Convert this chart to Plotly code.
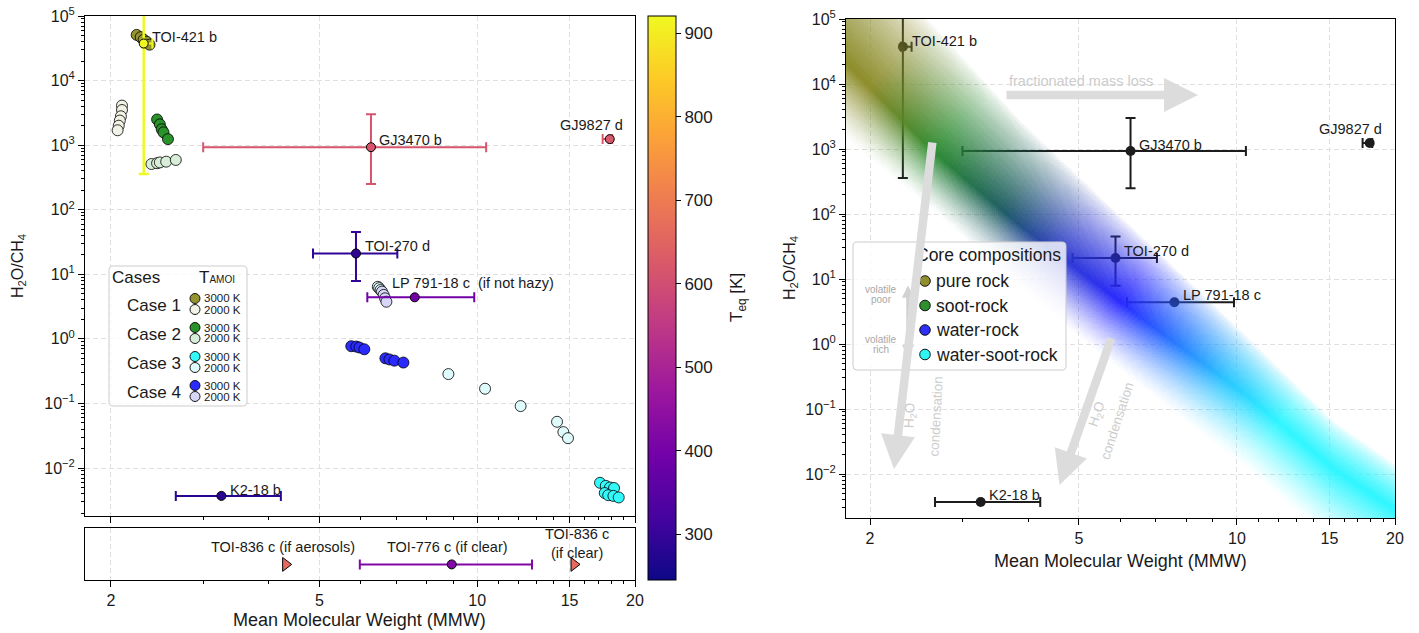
import math
import numpy as np
import plotly.graph_objects as go
from plotly.colors import sample_colorscale

W, H = 1419, 633
FONT = "Liberation Sans"
INK = "#1a1a1a"

# ---------------- model cases (left panel) ----------------
case_labels = ["Case 1", "Case 2", "Case 3", "Case 4"]
case1_3000_mmw = [2.24, 2.28, 2.31, 2.34, 2.37]
case1_3000_ratio = [5.1e4, 4.7e4, 4.3e4, 4.0e4, 3.6e4]
case1_2000_mmw = [2.10, 2.10, 2.09, 2.08, 2.07, 2.06]
case1_2000_ratio = [4.1e3, 3.5e3, 2.8e3, 2.4e3, 2.0e3, 1.7e3]
case2_3000_mmw = [2.45, 2.48, 2.50, 2.52, 2.57]
case2_3000_ratio = [2.5e3, 2.1e3, 1.76e3, 1.58e3, 1.24e3]
case2_2000_mmw = [2.39, 2.45, 2.48, 2.55, 2.66]
case2_2000_ratio = [510, 525, 540, 555, 590]
case3_3000_mmw = [17.15, 17.59, 17.92, 18.24, 17.51, 17.78, 18.19, 18.62]
case3_3000_ratio = [0.0059, 0.0053, 0.0050, 0.0049, 0.0041, 0.0038, 0.0037, 0.0035]
case3_2000_mmw = [6.46, 6.50, 6.54, 8.81, 10.35, 12.1, 14.2, 14.6, 14.9]
case3_2000_ratio = [6.4, 6.1, 5.7, 0.285, 0.169, 0.091, 0.052, 0.036, 0.029]
case4_3000_mmw = [5.75, 5.88, 5.96, 6.09, 6.68, 6.80, 6.95, 7.23]
case4_3000_ratio = [0.77, 0.76, 0.735, 0.69, 0.50, 0.48, 0.46, 0.43]
case4_2000_mmw = [6.58, 6.63, 6.67, 6.71]
case4_2000_ratio = [5.4, 4.8, 4.25, 3.76]
temp_labels = ["3000 K", "2000 K"]

# ---------------- observed planets ----------------
planet_names = ["TOI-421 b", "GJ3470 b", "GJ9827 d", "TOI-270 d", "LP 791-18 c", "K2-18 b"]
planet_notes = ["", "", "", "", "  (if not hazy)", ""]
planet_mmw = [2.31, 6.27, 17.9, 5.87, 7.6, 3.25]
planet_mmw_lo = [2.29, 3.00, 17.35, 4.86, 6.17, 2.66]
planet_mmw_hi = [2.40, 10.4, 18.1, 7.04, 9.87, 4.22]
planet_ratio = [3.75e4, 930, 1240, 21, 4.4, 0.0037]
planet_ratio_lo = [358, 250, None, 7.9, None, None]
planet_ratio_hi = [1e7, 3000, None, 45, None, None]
planet_teq = [920, 615, 625, 290, 396, 280]

# planets with MMW only (bottom strip)
ext_names = ["TOI-836 c (if aerosols)", "TOI-776 c (if clear)", "TOI-836 c<br>(if clear)"]
ext_mmw = [4.31, 8.94, 15.3]
ext_mmw_lo = [None, 5.97, None]
ext_mmw_hi = [None, 12.72, None]
ext_teq = [665, 420, 665]
ext_is_limit = [True, False, True]

# ---------------- core-composition band (right panel) ----------------
band_mmw = [1.78, 2.65, 3.87, 6.61, 10.45, 15.3, 21.0]
band_ratio = [2.3e4, 889, 66, 2.43, 0.16, 0.0119, 0.0022]
band_up_dex = [2.1, 1.95, 1.62, 1.26, 0.92, 0.74, 0.69]
band_dn_dex = [1.2, 0.92, 1.0, 1.08, 1.15, 1.2, 1.23]
hue_mmw = [2.0, 2.3, 2.65, 3.6, 4.6, 6.0, 8.0, 9.5, 12.0]
hue_rgb = [(138, 138, 38), (90, 135, 40), (40, 138, 45), (25, 88, 98), (42, 55, 205),
           (35, 35, 255), (35, 135, 255), (35, 195, 255), (40, 245, 255)]
core_names = ["pure rock", "soot-rock", "water-rock", "water-soot-rock"]
core_colors = ["#8f8f2e", "#2e8f2e", "#2f2ff5", "#30f5f5"]

cbar_ticks = [300, 400, 500, 600, 700, 800, 900]
x_major = [2, 5, 10, 15, 20]
x_minor = [3, 4, 6, 7, 8, 9, 11, 12, 13, 14, 16, 17, 18, 19]
y_exp = list(range(-2, 6))

# ---------------- geometry helpers (page pixels -> paper) ----------------
OFF = 0  # body margin is removed in the page (see post_script below)

def PX(x):
    return (x - OFF) / W

def PY(y):
    return 1 - (y - OFF) / H

T_MIN, T_MAX = 245, 921
X_RANGE_L = [math.log10(1.785), math.log10(20)]
Y_RANGE_L = [-2.743, 5]
X_RANGE_R = [0.2553, math.log10(20)]
Y_RANGE_R = [-2.677, 5]

def teq_color(t):
    return sample_colorscale("Plasma", [(t - T_MIN) / (T_MAX - T_MIN)])[0]

case_color_3000 = ["#939330", "#2a922a", "#33fafa", "#2b2bff"]
case_color_2000 = ["#f1f1e6", "#d9eed9", "#e0fbfb", "#d6d6f7"]

fig = go.Figure()

# ---- left panel: model cases ----
case_sets = [
    (case1_2000_mmw, case1_2000_ratio, case_color_2000[0]),
    (case1_3000_mmw, case1_3000_ratio, case_color_3000[0]),
    (case2_3000_mmw, case2_3000_ratio, case_color_3000[1]),
    (case2_2000_mmw, case2_2000_ratio, case_color_2000[1]),
    (case3_2000_mmw, case3_2000_ratio, case_color_2000[2]),
    (case4_2000_mmw, case4_2000_ratio, case_color_2000[3]),
    (case4_3000_mmw, case4_3000_ratio, case_color_3000[3]),
    (case3_3000_mmw, case3_3000_ratio, case_color_3000[2]),
]
for xs, ys, col in case_sets:
    fig.add_trace(go.Scatter(x=xs, y=ys, mode="markers", xaxis="x", yaxis="y",
                             marker=dict(size=11, color=col, line=dict(color="black", width=0.8)),
                             hoverinfo="skip", showlegend=False))

def err_dict(val, lo, hi, col, thick=2, width=5):
    if lo is None:
        return None
    return dict(type="data", symmetric=False, array=[hi - val], arrayminus=[val - lo],
                color=col, thickness=thick, width=width)

# error bars (left, coloured by Teq)
for i in range(len(planet_names)):
    col = teq_color(planet_teq[i])
    fig.add_trace(go.Scatter(
        x=[planet_mmw[i]], y=[planet_ratio[i]], mode="markers", xaxis="x", yaxis="y",
        marker=dict(size=2, opacity=0),
        error_x=err_dict(planet_mmw[i], planet_mmw_lo[i], planet_mmw_hi[i], col),
        error_y=err_dict(planet_ratio[i], planet_ratio_lo[i], planet_ratio_hi[i], col,
                         thick=2.5 if i == 0 else 2),
        hoverinfo="skip", showlegend=False))

fig.add_trace(go.Scatter(
    x=planet_mmw, y=planet_ratio, mode="markers", xaxis="x", yaxis="y",
    marker=dict(size=9, color=planet_teq, colorscale="Plasma", cmin=T_MIN, cmax=T_MAX,
                line=dict(color="black", width=1), showscale=True,
                colorbar=dict(x=PX(648), xanchor="left", y=PY((16 + 580) / 2), yanchor="middle",
                              len=(580 - 16) / H, lenmode="fraction", thickness=28,
                              thicknessmode="pixels", outlinewidth=1, outlinecolor="black",
                              ticks="outside", ticklen=5, tickcolor="black", tickmode="array",
                              tickvals=cbar_ticks, tickfont=dict(size=17, color=INK),
                              ticklabeloverflow="allow", xpad=0, ypad=0)),
    hoverinfo="skip", showlegend=False))

# ---- bottom strip ----
EXT_Y = 0.3
for i in range(len(ext_names)):
    col = teq_color(ext_teq[i])
    fig.add_trace(go.Scatter(
        x=[ext_mmw[i]], y=[EXT_Y], mode="markers", xaxis="x3", yaxis="y3",
        marker=dict(size=12 if ext_is_limit[i] else 9,
                    symbol="triangle-right" if ext_is_limit[i] else "circle",
                    color=col, line=dict(color="black", width=1)),
        error_x=err_dict(ext_mmw[i], ext_mmw_lo[i], ext_mmw_hi[i], col),
        hoverinfo="skip", showlegend=False))

# ---- right panel: observed planets in black ----
for i in range(len(planet_names)):
    fig.add_trace(go.Scatter(
        x=[planet_mmw[i]], y=[planet_ratio[i]], mode="markers", xaxis="x2", yaxis="y2",
        marker=dict(size=10, color="#1c1c1c"),
        error_x=err_dict(planet_mmw[i], planet_mmw_lo[i], planet_mmw_hi[i], "#1c1c1c"),
        error_y=err_dict(planet_ratio[i], planet_ratio_lo[i], planet_ratio_hi[i], "#1c1c1c"),
        hoverinfo="skip", showlegend=False))

# ---- right panel: translucent composition band (drawn above the planets) ----
SX, SY = 525.0, 65.0  # pixels per decade on the right panel
step_x, step_y = 2.0 / SX, 2.0 / SY
lx_c = np.arange(X_RANGE_R[0] + step_x / 2, X_RANGE_R[1], step_x)
ly_c = np.arange(Y_RANGE_R[0] + step_y / 2, Y_RANGE_R[1], step_y)
LX, LY = np.meshgrid(lx_c, ly_c)
blx = np.log10(band_mmw)
bly = np.log10(band_ratio)
core = np.interp(LX, blx, bly)
wup = np.interp(LX, blx, band_up_dex)
wdn = np.interp(LX, blx, band_dn_dex)
dd = LY - core
AMAX = 0.97
alpha = np.where(dd >= 0,
                 np.clip(1 - dd / wup, 0, 1) ** 0.75,
                 np.clip(1 + dd / wdn, 0, 1) ** 1.3) * AMAX

ang = math.atan(0.82)

def ucoord(lx, ly):
    return math.cos(ang) * SX * lx + math.sin(ang) * (-SY) * ly

hl = np.log10(hue_mmw)
hu = ucoord(hl, np.interp(hl, blx, bly))
U = ucoord(LX, LY)
tpos = np.interp(U, hu, np.arange(len(hue_mmw), dtype=float))
NB, NA = 160, 48
tb = np.clip(np.round(tpos / (len(hue_mmw) - 1) * (NB - 1)).astype(int), 0, NB - 1)
ab = np.clip(np.round(alpha / AMAX * (NA - 1)).astype(int), 0, NA - 1)
key = tb * NA + ab
mask = ab > 0
ukeys = np.unique(key[mask])
kidx = {int(k): j for j, k in enumerate(ukeys)}
hue_arr = np.array(hue_rgb, dtype=float)
cs = []
nk = len(ukeys)
for j, k in enumerate(ukeys):
    b, a = divmod(int(k), NA)
    tt = b / (NB - 1) * (len(hue_mmw) - 1)
    i0 = min(int(math.floor(tt)), len(hue_mmw) - 2)
    f = tt - i0
    rgb = hue_arr[i0] * (1 - f) + hue_arr[i0 + 1] * f
    cs.append([j / (nk - 1), "rgba(%d,%d,%d,%.3f)" % (rgb[0], rgb[1], rgb[2], a / (NA - 1) * AMAX)])
Z = [[(kidx[int(key[r, c])] if mask[r, c] else None) for c in range(key.shape[1])]
     for r in range(key.shape[0])]
fig.add_trace(go.Heatmap(x=lx_c, y=ly_c, z=Z, colorscale=cs, zmin=0, zmax=nk - 1,
                         showscale=False, zsmooth=False, hoverinfo="skip",
                         xaxis="x4", yaxis="y4"))

# ---------------- axes ----------------
y_vals = [10.0 ** k for k in y_exp]
y_text = ["10<sup>%s</sup>" % (str(k) if k >= 0 else "\u2212" + str(-k)) for k in y_exp]
y_minor = [m * 10.0 ** k for k in range(-3, 5) for m in range(2, 10)]

def log_axis(domain, rng, anchor, labels, major, major_text, minor_vals):
    return dict(type="log", domain=domain, range=rng, anchor=anchor, automargin=False,
                showline=True, linecolor="black", linewidth=1, mirror=True,
                ticks="outside", ticklen=6, tickwidth=1, tickcolor="black",
                tickmode="array", tickvals=major, ticktext=major_text, showticklabels=labels,
                tickfont=dict(size=16, color=INK), ticklabeloverflow="allow",
                showgrid=True, gridcolor="#e0e0e0", griddash="5px,3px", gridwidth=1,
                zeroline=False,
                minor=dict(tickmode="array", tickvals=minor_vals, ticks="outside", ticklen=3,
                           tickwidth=1, tickcolor="black", showgrid=False))

xt = [str(v) for v in x_major]
layout_axes = dict(
    xaxis=log_axis([PX(85), PX(635)], X_RANGE_L, "y", False, x_major, xt, x_minor),
    yaxis=log_axis([PY(516), PY(16)], Y_RANGE_L, "x", True, y_vals, y_text, y_minor),
    xaxis3=log_axis([PX(85), PX(635)], X_RANGE_L, "y3", True, x_major, xt, x_minor),
    yaxis3=dict(domain=[PY(580), PY(528)], range=[0, 1], anchor="x3", showticklabels=False,
                ticks="", showgrid=False, zeroline=False, showline=True, mirror=True,
                linecolor="black", linewidth=1, automargin=False),
    xaxis2=log_axis([PX(846), PX(1395)], X_RANGE_R, "y2", True, x_major, xt, x_minor),
    yaxis2=log_axis([PY(518), PY(19)], Y_RANGE_R, "x2", True, y_vals, y_text, y_minor),
    xaxis4=dict(overlaying="x2", type="linear", range=X_RANGE_R, visible=False, anchor="y4",
                showgrid=False, zeroline=False, automargin=False),
    yaxis4=dict(overlaying="y2", type="linear", range=Y_RANGE_R, visible=False, anchor="x4",
                showgrid=False, zeroline=False, automargin=False),
)

# ---------------- annotations & shapes ----------------
ann = []
shapes = []

def text(x, y, t, size, color=INK, xanchor="center", angle=0, **kw):
    d = dict(xref="paper", yref="paper", x=PX(x), y=PY(y), text=t, showarrow=False,
             font=dict(size=size, color=color, family=FONT), xanchor=xanchor,
             yanchor="middle", textangle=angle)
    d.update(kw)
    ann.append(d)

LAB = 14.5
# planet labels
left_shift = [(6, 7, "left"), (6.5, 7, "left"), (15, 14, "right"), (7, 7, "left"),
              (-25, 14, "left"), (6.5, 6, "left")]
right_shift = [(7, 6, "left"), (6, 6, "left"), (14, 14, "right"), (6.5, 7, "left"),
               (7, 7, "left"), (6, 7, "left")]
for i, nm in enumerate(planet_names):
    dx, dy, xa = left_shift[i]
    ann.append(dict(xref="x", yref="y", x=math.log10(planet_mmw[i]), y=math.log10(planet_ratio[i]),
                    text=nm + planet_notes[i], showarrow=False, xshift=dx, yshift=dy,
                    xanchor=xa, yanchor="middle", font=dict(size=LAB, color=INK)))
    dx, dy, xa = right_shift[i]
    ann.append(dict(xref="x2", yref="y2", x=math.log10(planet_mmw[i]), y=math.log10(planet_ratio[i]),
                    text=nm, showarrow=False, xshift=dx, yshift=dy,
                    xanchor=xa, yanchor="middle", font=dict(size=LAB, color=INK)))
ext_shift = [(-3, 17), (-4.5, 17), (3, 21)]
for i, nm in enumerate(ext_names):
    dx, dy = ext_shift[i]
    ann.append(dict(xref="x3", yref="y3", x=math.log10(ext_mmw[i]), y=EXT_Y, text=nm,
                    showarrow=False, xshift=dx, yshift=dy, xanchor="center", yanchor="middle",
                    font=dict(size=LAB, color=INK)))

# axis titles
ratio_title = "H<sub>2</sub>O/CH<sub>4</sub>"
mmw_title = "Mean Molecular Weight (MMW)"
text(18, 266, ratio_title, 16, angle=-90)
text(790, 268, ratio_title, 16, angle=-90)
text(359, 620, mmw_title, 18)
text(1120, 561, mmw_title, 18)
text(738, 298, "T<sub>eq</sub> [K]", 17, angle=-90)

# rounded legend boxes
def rrect(x0, y0, x1, y1, r):
    p = [
        "M%f,%f" % (PX(x0 + r), PY(y0)), "L%f,%f" % (PX(x1 - r), PY(y0)),
        "Q%f,%f %f,%f" % (PX(x1), PY(y0), PX(x1), PY(y0 + r)), "L%f,%f" % (PX(x1), PY(y1 - r)),
        "Q%f,%f %f,%f" % (PX(x1), PY(y1), PX(x1 - r), PY(y1)), "L%f,%f" % (PX(x0 + r), PY(y1)),
        "Q%f,%f %f,%f" % (PX(x0), PY(y1), PX(x0), PY(y1 - r)), "L%f,%f" % (PX(x0), PY(y0 + r)),
        "Q%f,%f %f,%f" % (PX(x0), PY(y0), PX(x0 + r), PY(y0)), "Z"]
    return dict(type="path", xref="paper", yref="paper", path=" ".join(p),
                fillcolor="rgba(255,255,255,0.8)", line=dict(color="#cccccc", width=1),
                layer="above")

def dot(x, y, r, col):
    return dict(type="circle", xref="paper", yref="paper", xsizemode="pixel", ysizemode="pixel",
                xanchor=PX(x), yanchor=PY(y), x0=-r, x1=r, y0=-r, y1=r,
                fillcolor=col, line=dict(color="black", width=0.9), layer="above")

# left legend
shapes.append(rrect(109, 266, 247, 406, 4))
text(136, 277, "Cases", 17)
text(217, 277, "T<span style='font-size:10px'>AMOI</span>", 17)
row_y = [304, 333, 362, 391]
for i, lab in enumerate(case_labels):
    text(154, row_y[i] + 1, lab, 17)
    shapes.append(dot(195, row_y[i] - 5.5, 5, case_color_3000[i]))
    shapes.append(dot(195, row_y[i] + 5.5, 5, case_color_2000[i]))
    text(202, row_y[i] - 5.5, temp_labels[0], 11.5, xanchor="left")
    text(202, row_y[i] + 5.5, temp_labels[1], 11.5, xanchor="left")

# right legend
shapes.append(rrect(853, 242, 1066, 370, 4))
text(988, 255, "Core compositions", 17.5)
core_y = [281, 305.5, 330, 354.5]
for i, nm in enumerate(core_names):
    shapes.append(dot(925, core_y[i], 5.3, core_colors[i]))
    text(934, core_y[i], nm, 17.5, xanchor="left")

GRAY = "#dcdcdc"

def arrow(tail, tip, width, size, color=GRAY, both=False):
    d = dict(xref="paper", yref="paper", x=PX(tip[0]), y=PY(tip[1]),
             ax=tail[0] - tip[0], ay=tail[1] - tip[1], axref="pixel", ayref="pixel",
             showarrow=True, arrowhead=2, arrowsize=size, arrowwidth=width,
             arrowcolor=color, text="", standoff=0, startstandoff=0)
    if both:
        d.update(arrowside="end+start", startarrowhead=2, startarrowsize=size)
    ann.append(d)

# volatile poor / rich arrow in legend
arrow((908, 284), (908, 357), 3.5, 0.7, color="#d2d2d2", both=True)
text(881, 289, "volatile", 10, color="#a8a8a8")
text(881, 299.5, "poor", 10, color="#a8a8a8")
text(881, 339, "volatile", 10, color="#a8a8a8")
text(881, 349, "rich", 10, color="#a8a8a8")

# process arrows
arrow((1005, 95), (1198, 95), 8.5, 0.8)
text(1081, 81, "fractionated mass loss", 14.5, color="#cdcdcd")
arrow((932.5, 141), (894, 469), 8.5, 0.8)
arrow((1111.8, 337), (1059.5, 485), 8.5, 0.8)
text(910.5, 415.7, "H<sub>2</sub>O", 13.5, color="#cdcdcd", angle=-87)
text(935.6, 417, "condensation", 13.5, color="#cdcdcd", angle=-87)
text(1097, 414, "H<sub>2</sub>O", 13.5, color="#cdcdcd", angle=-72)
text(1117.4, 420.7, "condensation", 13.5, color="#cdcdcd", angle=-72)

fig.update_layout(
    width=W, height=H, margin=dict(l=0, r=0, t=0, b=0, pad=0, autoexpand=False),
    paper_bgcolor="white", plot_bgcolor="rgba(0,0,0,0)",
    font=dict(family=FONT, color=INK, size=14), showlegend=False,
    annotations=ann, shapes=shapes, **layout_axes)

fig.write_html("out.html", config={"displayModeBar": False, "staticPlot": True},
               post_script="document.body.style.margin='0';document.body.style.overflow='hidden';")
